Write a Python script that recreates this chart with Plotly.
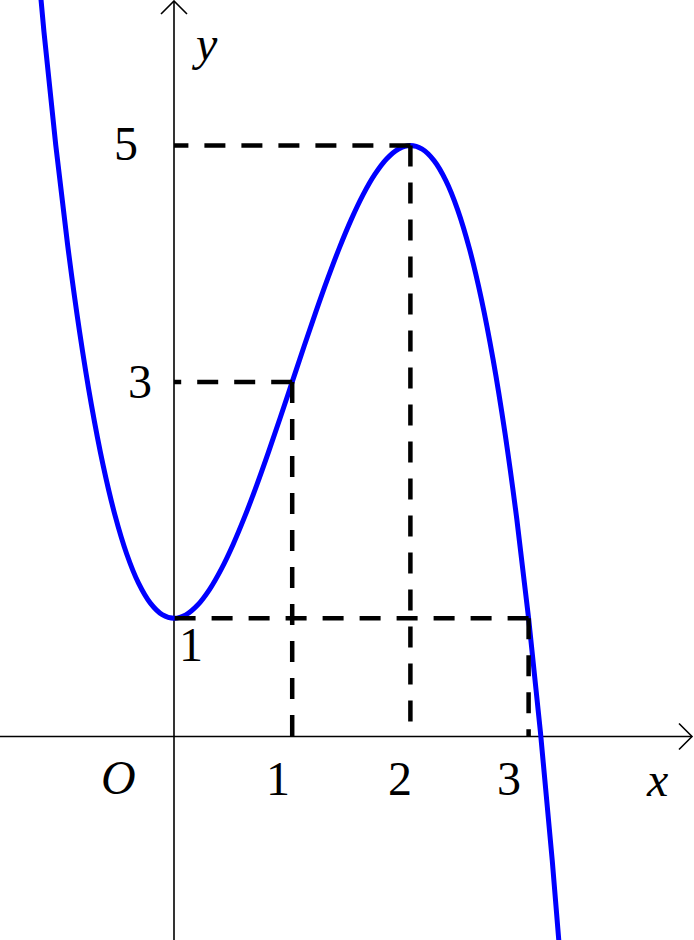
import plotly.graph_objects as go

# ---- data ----
curve_x = [-1.2, -1.1, -1.0, -0.9, -0.8, -0.7, -0.6, -0.5, -0.4, -0.3, -0.2, -0.1,
           0.0, 0.1, 0.2, 0.3, 0.4, 0.5, 0.6, 0.7, 0.8, 0.9,
           1.0, 1.1, 1.2, 1.3, 1.4, 1.5, 1.6, 1.7, 1.8, 1.9,
           2.0, 2.1, 2.2, 2.3, 2.4, 2.5, 2.6, 2.7, 2.8, 2.9,
           3.0, 3.1, 3.2, 3.3]
curve_y = [7.048, 5.961, 5.0, 4.159, 3.432, 2.813, 2.296, 1.875, 1.544, 1.297, 1.128, 1.031,
           1.0, 1.029, 1.112, 1.243, 1.416, 1.625, 1.864, 2.127, 2.408, 2.701,
           3.0, 3.299, 3.592, 3.873, 4.136, 4.375, 4.584, 4.757, 4.888, 4.971,
           5.0, 4.969, 4.872, 4.703, 4.456, 4.125, 3.704, 3.187, 2.568, 1.841,
           1.0, 0.039, -1.048, -2.267]

key_x = [1, 2, 3]
key_y = [3, 5, 1]

x_tick_vals = [1, 2, 3]
x_tick_text = ["1", "2", "3"]
y_tick_vals = [5, 3, 1]
y_tick_text = ["5", "3", "1"]

# ---- layout helpers (pixel geometry of the page) ----
W, H = 694, 940
SCALE = 118.2          # pixels per unit
X0PX, Y0PX = 174.0, 736.5


def dx(p):
    return (p - X0PX) / SCALE


def dy(p):
    return (Y0PX - p) / SCALE


FONT = "Liberation Serif"
FS = 48

fig = go.Figure()

# curve
fig.add_trace(go.Scatter(x=curve_x, y=curve_y, mode="lines",
                         line=dict(color="#0000ff", width=5, shape="spline", smoothing=1.0),
                         hoverinfo="skip", showlegend=False))

# dashed guides (drawn from point toward axes)
for kx, ky in zip(key_x, key_y):
    fig.add_trace(go.Scatter(x=[kx, 0], y=[ky, ky], mode="lines",
                             line=dict(color="black", width=4.5, dash="21px,16px"),
                             hoverinfo="skip", showlegend=False))
    fig.add_trace(go.Scatter(x=[kx, kx], y=[ky, 0], mode="lines",
                             line=dict(color="black", width=4.5, dash="21px,16px"),
                             hoverinfo="skip", showlegend=False))

shapes = []
axis_line = dict(color="black", width=1.6)
# x axis
shapes.append(dict(type="line", xref="x", yref="y", x0=dx(0), y0=0, x1=dx(692), y1=0,
                   line=axis_line, layer="below"))
# y axis
shapes.append(dict(type="line", xref="x", yref="y", x0=0, y0=dy(940), x1=0, y1=dy(1),
                   line=axis_line, layer="below"))
# arrowheads (open, slightly curved)
shapes.append(dict(type="path", xref="x", yref="y",
                   path=f"M {dx(679)},{dy(Y0PX-13)} Q {dx(688)},{dy(Y0PX-4)} {dx(692)},{dy(Y0PX)} "
                        f"Q {dx(688)},{dy(Y0PX+4)} {dx(679)},{dy(Y0PX+13)}",
                   line=axis_line))
shapes.append(dict(type="path", xref="x", yref="y",
                   path=f"M {dx(X0PX-13)},{dy(14)} Q {dx(X0PX-4)},{dy(5)} {dx(X0PX)},{dy(1)} "
                        f"Q {dx(X0PX+4)},{dy(5)} {dx(X0PX+13)},{dy(14)}",
                   line=axis_line))

annotations = []
font = dict(family=FONT, size=FS, color="black")

# x tick labels
x_label_px = [278, 400, 509]
for t, txt, p in zip(x_tick_vals, x_tick_text, x_label_px):
    annotations.append(dict(x=dx(p), y=dy(778), xref="x", yref="y", text=txt, showarrow=False,
                            font=font, xanchor="center", yanchor="middle"))
# y tick labels
y_label_px = [(126, 143), (140, 381), (191, 644)]
for t, txt, (px, py) in zip(y_tick_vals, y_tick_text, y_label_px):
    annotations.append(dict(x=dx(px), y=dy(py), xref="x", yref="y", text=txt, showarrow=False,
                            font=font, xanchor="center", yanchor="middle"))

# axis names and origin
for txt, px, py in [("<i>O</i>", 118, 777), ("<i>x</i>", 657, 779), ("<i>y</i>", 204, 43)]:
    annotations.append(dict(x=dx(px), y=dy(py), xref="x", yref="y", text=txt, showarrow=False,
                            font=font, xanchor="center", yanchor="middle"))

fig.update_layout(
    width=W, height=H,
    margin=dict(l=0, r=0, t=0, b=0),
    paper_bgcolor="white", plot_bgcolor="white",
    xaxis=dict(range=[dx(0), dx(W)], visible=False, fixedrange=True),
    yaxis=dict(range=[dy(H), dy(0)], visible=False, fixedrange=True),
    shapes=shapes, annotations=annotations,
    showlegend=False,
)

fig.write_html("out.html", config={"displayModeBar": False},
               post_script="document.body.style.margin='0';document.body.style.padding='0';")
